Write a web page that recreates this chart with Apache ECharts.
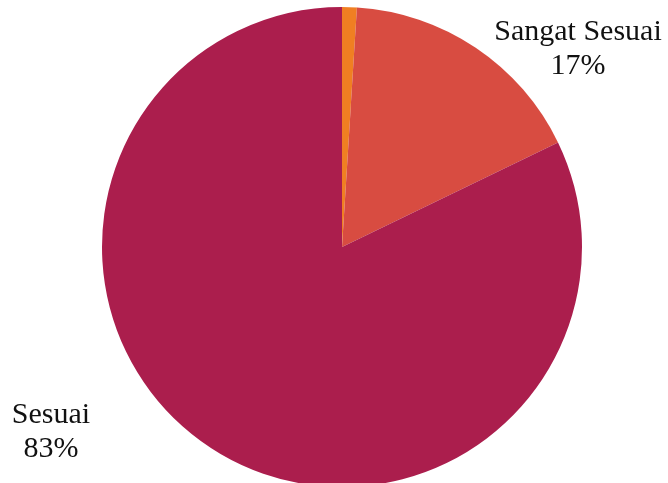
<!DOCTYPE html>
<html>
<head>
<meta charset="utf-8">
<script src="https://cdn.jsdelivr.net/npm/echarts@6/dist/echarts.min.js"></script>
<style>
  html, body { margin: 0; padding: 0; background: #ffffff; }
  #chart { width: 668px; height: 483px; }
</style>
</head>
<body>
<div id="chart"></div>
<script>
// Response categories and their shares (percent)
const categories = ['Kurang Sesuai', 'Sangat Sesuai', 'Sesuai'];
const shares = [1, 17, 83];
const sliceColors = ['#F07F22', '#D84C41', '#AB1E4D'];
// Which categories carry a text label
const labelled = [false, true, true];

const chart = echarts.init(document.getElementById('chart'), null, { renderer: 'canvas' });

const pieData = categories.map((name, i) => ({
  name: name,
  value: shares[i],
  itemStyle: { color: sliceColors[i] },
  label: { show: labelled[i] },
  labelLine: { show: false }
}));

chart.setOption({
  backgroundColor: '#ffffff',
  animation: false,
  series: [{
    type: 'pie',
    center: [342, 247],
    radius: [0, 240],
    startAngle: 90,
    clockwise: true,
    avoidLabelOverlap: false,
    silent: true,
    label: {
      position: 'outside',
      formatter: p => p.name + '\n' + p.value + '%',
      fontFamily: 'Liberation Serif',
      fontSize: 30,
      lineHeight: 34,
      color: '#111111',
      align: 'center'
    },
    labelLine: { show: false },
    labelLayout: function (params) {
      // Sangat Sesuai sits top-right, Sesuai bottom-left
      if (params.dataIndex === 1) {
        return { x: 578, y: 49, align: 'center', verticalAlign: 'middle' };
      }
      return { x: 51, y: 432, align: 'center', verticalAlign: 'middle' };
    },
    data: pieData
  }]
});
</script>
</body>
</html>
